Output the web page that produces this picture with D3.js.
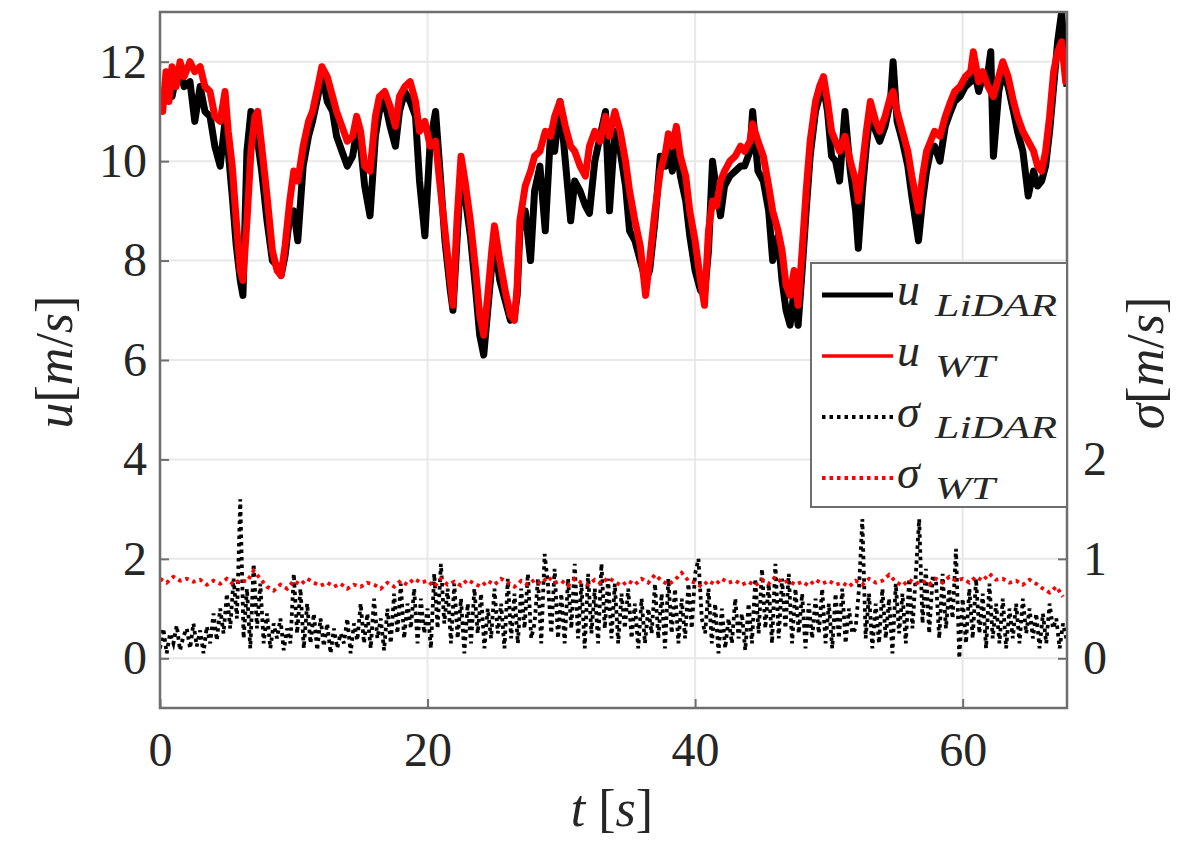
<!DOCTYPE html>
<html><head><meta charset="utf-8">
<script src="https://cdn.jsdelivr.net/npm/d3@7"></script>
<style>
html,body{margin:0;padding:0;background:#fff;}
svg{display:block;}
svg text{font-family:"Liberation Serif","DejaVu Serif","Times New Roman",serif !important;}
</style></head>
<body>
<svg id="chart" width="1191" height="841"></svg>
<script>
// ---------- DATA ----------
const xTicks = [0, 20, 40, 60];
const uTicks = [0, 2, 4, 6, 8, 10, 12];
const sigmaTicks = [0, 1, 2];

// [t (s), u (m/s)]
const uWT = [[0.0,11.4],[0.2,11.0],[0.45,11.8],[0.67,11.2],[0.9,11.9],[1.2,11.5],[1.5,12.0],[1.8,11.7],[2.24,12.0],[2.6,11.8],[3.0,11.9],[3.36,11.5],[3.74,11.4],[4.1,10.9],[4.5,10.8],[4.86,11.4],[5.1,10.6],[5.4,9.9],[5.7,8.8],[6.0,7.8],[6.2,7.6],[6.5,8.8],[6.8,10.2],[7.1,10.9],[7.3,11.0],[7.6,10.3],[8.0,9.3],[8.4,8.2],[8.75,7.8],[9.05,7.7],[9.35,8.3],[9.7,9.2],[10.0,9.8],[10.3,9.6],[10.7,10.3],[11.1,10.8],[11.4,11.0],[11.8,11.5],[12.1,11.9],[12.5,11.7],[12.9,11.3],[13.2,11.0],[13.6,10.7],[14.0,10.4],[14.4,10.5],[14.7,10.9],[15.0,10.6],[15.3,9.9],[15.7,9.8],[16.1,10.9],[16.4,11.3],[16.8,11.4],[17.2,11.1],[17.6,10.7],[17.9,11.3],[18.3,11.5],[18.7,11.6],[19.1,11.2],[19.4,10.6],[19.8,10.8],[20.2,10.3],[20.6,10.4],[20.9,9.6],[21.3,8.6],[21.7,7.6],[21.9,7.1],[22.2,8.8],[22.5,10.1],[22.8,9.6],[23.2,8.8],[23.6,7.8],[23.9,6.9],[24.2,6.5],[24.5,7.3],[24.8,8.2],[25.0,8.7],[25.4,8.0],[25.8,7.4],[26.2,6.9],[26.5,6.8],[26.7,7.5],[26.9,8.8],[27.3,9.5],[27.7,9.8],[28.0,10.1],[28.4,10.2],[28.8,10.6],[29.2,10.5],[29.5,10.9],[29.9,11.2],[30.3,10.7],[30.7,10.3],[31.0,10.2],[31.4,9.9],[31.8,9.7],[32.1,10.3],[32.5,10.6],[32.9,10.4],[33.3,10.9],[33.6,10.5],[34.0,11.0],[34.4,10.6],[34.8,10.0],[35.1,9.4],[35.5,8.8],[35.9,8.3],[36.3,7.3],[36.6,8.0],[37.0,9.0],[37.4,9.8],[37.8,10.2],[38.0,10.55],[38.3,10.3],[38.6,10.7],[38.9,10.1],[39.3,9.7],[39.6,9.0],[40.0,8.4],[40.4,7.6],[40.7,7.1],[41.0,8.6],[41.3,9.2],[41.6,9.1],[41.9,9.6],[42.2,9.8],[42.6,10.0],[43.0,10.1],[43.4,10.3],[43.7,10.2],[44.1,10.4],[44.3,10.75],[44.7,10.4],[45.1,10.1],[45.5,9.5],[45.8,9.0],[46.2,8.6],[46.5,8.2],[46.8,7.5],[47.1,7.3],[47.4,7.8],[47.7,7.1],[48.0,8.2],[48.3,9.4],[48.6,10.4],[49.0,11.2],[49.3,11.5],[49.6,11.7],[49.9,11.2],[50.2,10.6],[50.5,10.4],[50.8,10.2],[51.2,10.5],[51.6,10.0],[52.0,9.6],[52.2,9.2],[52.5,9.9],[52.8,10.6],[53.1,11.2],[53.5,10.8],[53.8,10.6],[54.2,10.9],[54.6,11.3],[54.8,11.4],[55.1,11.0],[55.5,10.6],[55.9,10.2],[56.2,9.7],[56.7,9.0],[57.0,9.7],[57.3,10.2],[57.6,10.4],[57.9,10.6],[58.3,10.5],[58.7,10.9],[59.1,11.2],[59.4,11.4],[59.8,11.5],[60.2,11.7],[60.6,11.8],[60.8,12.2],[61.2,11.6],[61.5,11.8],[61.9,11.5],[62.1,11.4],[62.3,11.3],[62.7,11.7],[63.0,12.0],[63.4,11.7],[63.8,11.2],[64.1,10.9],[64.5,10.6],[64.9,10.4],[65.3,10.2],[65.6,9.9],[65.9,9.8],[66.2,10.2],[66.5,10.9],[66.8,11.8],[67.1,12.2],[67.4,12.4],[67.7,11.6],[67.8,11.9]];

const uLiDAR = [[0.0,11.3],[0.2,11.2],[0.45,11.4],[0.67,11.6],[0.9,11.3],[1.2,11.7],[1.5,11.8],[1.8,11.5],[2.24,11.6],[2.6,10.8],[3.0,11.5],[3.36,11.0],[3.74,10.9],[4.1,10.3],[4.5,9.9],[4.86,10.8],[5.1,10.2],[5.4,9.3],[5.7,8.3],[6.0,7.6],[6.2,7.3],[6.5,10.2],[6.8,11.0],[7.1,10.6],[7.3,10.4],[7.6,9.8],[8.0,8.8],[8.4,8.0],[8.75,7.9],[9.05,7.7],[9.35,8.1],[9.7,8.9],[10.0,9.0],[10.3,8.4],[10.7,9.9],[11.1,10.5],[11.4,10.8],[11.8,11.3],[12.1,11.8],[12.5,11.2],[12.9,11.0],[13.2,10.5],[13.6,10.2],[14.0,9.9],[14.4,10.1],[14.7,10.6],[15.0,10.3],[15.3,9.5],[15.7,8.9],[16.1,10.5],[16.4,11.0],[16.8,11.2],[17.2,10.7],[17.6,10.3],[17.9,11.0],[18.3,11.4],[18.7,11.2],[19.1,10.9],[19.4,9.6],[19.8,8.5],[20.2,10.4],[20.6,11.0],[20.9,9.9],[21.3,8.4],[21.7,7.4],[21.9,7.0],[22.2,8.4],[22.5,9.8],[22.8,9.3],[23.2,8.5],[23.6,7.4],[23.9,6.5],[24.2,6.1],[24.5,7.0],[24.8,7.9],[25.0,8.4],[25.4,7.6],[25.8,7.2],[26.2,6.8],[26.5,6.9],[26.7,7.3],[26.9,8.6],[27.3,9.0],[27.7,8.0],[28.0,9.4],[28.4,9.9],[28.8,8.6],[29.2,10.6],[29.5,10.2],[29.9,11.2],[30.3,10.0],[30.7,8.8],[31.0,9.6],[31.4,9.4],[31.8,9.1],[32.1,8.95],[32.5,10.0],[32.9,10.5],[33.3,11.0],[33.6,9.0],[34.0,10.6],[34.4,10.2],[34.8,9.5],[35.1,8.6],[35.5,8.4],[35.9,8.0],[36.3,7.6],[36.6,7.8],[37.0,8.8],[37.4,10.1],[37.8,9.9],[38.0,10.2],[38.3,9.8],[38.6,10.4],[38.9,9.7],[39.3,9.2],[39.6,8.5],[40.0,7.8],[40.4,7.4],[40.7,7.3],[41.0,8.2],[41.3,10.0],[41.6,9.4],[41.9,8.9],[42.2,9.5],[42.6,9.7],[43.0,9.8],[43.4,9.9],[43.7,9.9],[44.1,10.2],[44.3,11.0],[44.7,9.8],[45.1,9.6],[45.5,9.0],[45.8,8.0],[46.2,8.5],[46.5,7.6],[46.8,7.0],[47.1,6.7],[47.4,7.4],[47.7,6.7],[48.0,7.8],[48.3,9.0],[48.6,10.1],[49.0,11.0],[49.3,11.3],[49.6,11.5],[49.9,11.0],[50.2,10.1],[50.5,10.0],[50.8,9.6],[51.2,11.0],[51.6,9.8],[52.0,9.0],[52.2,8.25],[52.5,9.4],[52.8,10.3],[53.1,11.0],[53.5,10.6],[53.8,10.4],[54.2,10.7],[54.6,11.2],[54.8,12.0],[55.1,10.8],[55.5,10.4],[55.9,9.9],[56.2,9.3],[56.7,8.4],[57.0,9.2],[57.3,9.8],[57.6,10.2],[57.9,10.3],[58.3,10.0],[58.7,10.7],[59.1,11.0],[59.4,11.2],[59.8,11.3],[60.2,11.5],[60.6,11.6],[60.8,11.9],[61.2,11.4],[61.5,11.7],[61.9,11.8],[62.1,12.2],[62.3,10.1],[62.7,11.4],[63.0,11.8],[63.4,11.5],[63.8,11.0],[64.1,10.6],[64.5,10.2],[64.9,9.3],[65.3,9.8],[65.6,9.5],[65.9,9.6],[66.2,9.9],[66.5,10.6],[66.8,11.5],[67.1,12.4],[67.4,13.0],[67.7,11.8],[67.8,11.5]];

// sigma_LiDAR sampled every 0.25 s from t = 0 (m/s, right axis)
const sigmaLiDARStep = 0.25;
const sigmaLiDAR = [
  0.10,0.30,0.05,0.25, 0.15,0.33,0.08,0.22, 0.30,0.10,0.35,0.12, 0.28,0.05,0.32,0.15,
  0.45,0.18,0.50,0.25, 0.65,0.30,0.80,0.40, 1.60,0.20,0.70,0.10, 0.95,0.30,0.75,0.15,
  0.45,0.10,0.35,0.20, 0.40,0.08,0.30,0.15, 0.85,0.25,0.70,0.10, 0.55,0.15,0.45,0.08,
  0.40,0.12,0.35,0.05, 0.30,0.10,0.25,0.15, 0.40,0.05,0.35,0.18, 0.55,0.15,0.45,0.10,
  0.60,0.20,0.40,0.08, 0.50,0.15,0.65,0.25, 0.75,0.20,0.55,0.30, 0.70,0.15,0.60,0.25,
  0.50,0.10,0.85,0.30, 0.95,0.35,0.70,0.15, 0.75,0.20,0.60,0.05, 0.55,0.15,0.70,0.25,
  0.65,0.10,0.50,0.20, 0.70,0.25,0.55,0.10, 0.80,0.20,0.65,0.15, 0.70,0.30,0.85,0.20,
  0.35,0.80,0.15,1.05, 0.75,0.25,0.90,0.20, 0.65,0.15,0.80,0.30, 0.95,0.20,0.75,0.10,
  0.85,0.25,0.70,0.15, 0.95,0.30,0.80,0.20, 0.75,0.15,0.65,0.30, 0.70,0.20,0.55,0.10,
  0.60,0.15,0.50,0.25, 0.75,0.20,0.65,0.10, 0.80,0.25,0.70,0.15, 0.60,0.20,0.75,0.30,
  0.85,1.00,0.40,0.25, 0.70,0.15,0.55,0.05, 0.50,0.10,0.40,0.15, 0.60,0.20,0.45,0.08,
  0.55,0.15,0.80,0.25, 0.90,0.30,0.75,0.15, 0.95,0.20,0.80,0.30, 0.85,0.15,0.70,0.25,
  0.65,0.10,0.55,0.20, 0.60,0.25,0.70,0.15, 0.55,0.10,0.65,0.20, 0.70,0.15,0.50,0.25,
  0.30,0.70,1.40,0.20, 0.65,0.10,0.55,0.15, 0.70,0.20,0.60,0.05, 0.75,0.25,0.65,0.15,
  0.80,0.30,0.85,1.40, 0.35,0.90,0.25,0.80, 0.80,0.20,0.85,0.30, 0.70,0.40,1.10,0.00,
  0.60,0.15,0.70,0.20, 0.80,0.25,0.65,0.10, 0.75,0.20,0.55,0.15, 0.60,0.10,0.50,0.20,
  0.55,0.15,0.60,0.25, 0.50,0.20,0.45,0.10, 0.45,0.15,0.55,0.30, 0.40,0.10,0.35,0.20];

// sigma_WT sampled every 0.5 s from t = 0
const sigmaWTStep = 0.5;
const sigmaWT = [0.80,0.76,0.82,0.78,0.80,0.77,0.79,0.74,
  0.78,0.75,0.80,0.74,0.79,0.77,0.88,0.80,
  0.72,0.68,0.74,0.70,0.78,0.74,0.80,0.76,
  0.73,0.76,0.72,0.75,0.70,0.74,0.72,0.76,
  0.74,0.70,0.76,0.72,0.78,0.74,0.80,0.76,
  0.78,0.72,0.80,0.74,0.77,0.73,0.79,0.75,
  0.72,0.78,0.74,0.80,0.76,0.72,0.78,0.74,
  0.79,0.75,0.82,0.76,0.78,0.73,0.80,0.76,
  0.74,0.79,0.75,0.81,0.77,0.73,0.78,0.74,
  0.80,0.76,0.84,0.78,0.74,0.79,0.86,0.78,
  0.76,0.72,0.78,0.74,0.80,0.76,0.78,0.74,
  0.77,0.73,0.79,0.75,0.82,0.76,0.78,0.74,
  0.77,0.73,0.79,0.75,0.78,0.74,0.76,0.72,
  0.78,0.74,0.80,0.76,0.78,0.84,0.77,0.73,
  0.79,0.75,0.78,0.74,0.80,0.76,0.82,0.78,
  0.80,0.76,0.82,0.78,0.85,0.79,0.80,0.76,
  0.78,0.74,0.79,0.75,0.70,0.66,0.72,0.62];

const legendItems = [
  {sym:"u", sub:"LiDAR", color:"#000000", dash:null, subLen:122},
  {sym:"u", sub:"WT", color:"#ff0000", dash:null, subLen:60},
  {sym:"σ", sub:"LiDAR", color:"#000000", dash:"3.5,4", subLen:122},
  {sym:"σ", sub:"WT", color:"#ff0000", dash:"3.5,4", subLen:60}
];

// ---------- LAYOUT ----------
const L = 160, R = 1067, T = 12, B = 708;
const textColor = "#262626";

const svg = d3.select("#chart");
const x = d3.scaleLinear().domain([0, 67.8]).range([L, R]);
const yL = d3.scaleLinear().domain([-1, 13]).range([B, T]);
const yR = d3.scaleLinear().domain([-0.5, 6.5]).range([B, T]);

svg.append("defs").append("clipPath").attr("id","clip")
  .append("rect").attr("x",L).attr("y",T).attr("width",R-L).attr("height",B-T);

// grid
const grid = svg.append("g");
grid.selectAll("line.gx").data(xTicks).join("line")
  .attr("x1", d=>x(d)).attr("x2", d=>x(d)).attr("y1", T).attr("y2", B)
  .attr("stroke","#e8e8e8").attr("stroke-width",2);
grid.selectAll("line.gy").data(uTicks).join("line")
  .attr("y1", d=>yL(d)).attr("y2", d=>yL(d)).attr("x1", L).attr("x2", R)
  .attr("stroke","#e8e8e8").attr("stroke-width",2);

// series
const plot = svg.append("g").attr("clip-path","url(#clip)");
const lineU = d3.line().x(d=>x(d[0])).y(d=>yL(d[1]));
const lineS = step => d3.line().x((d,i)=>x(i*step)).y(d=>yR(d));

plot.append("path").datum(sigmaLiDAR).attr("d", lineS(sigmaLiDARStep))
  .attr("fill","none").attr("stroke","#000").attr("stroke-width",3.8)
  .attr("stroke-dasharray","3.5,4");
plot.append("path").datum(sigmaWT).attr("d", lineS(sigmaWTStep))
  .attr("fill","none").attr("stroke","#ff0000").attr("stroke-width",3.8)
  .attr("stroke-dasharray","3.5,4");
plot.append("path").datum(uLiDAR).attr("d", lineU)
  .attr("fill","none").attr("stroke","#000").attr("stroke-width",7)
  .attr("stroke-linejoin","round");
plot.append("path").datum(uWT).attr("d", lineU)
  .attr("fill","none").attr("stroke","#ff0000").attr("stroke-width",7)
  .attr("stroke-linejoin","round");

// axes
const axisColor = "#6e6e6e";
function styleAxis(g){
  g.attr("font-family", null);
  g.select(".domain").remove();
  g.selectAll(".tick line").attr("stroke", axisColor).attr("stroke-width",2);
  g.selectAll(".tick text").attr("font-size", 48).attr("fill", textColor);
}
svg.append("g").attr("transform",`translate(${L},0)`)
  .call(d3.axisLeft(yL).tickValues(uTicks).tickSizeInner(-9).tickSizeOuter(0).tickPadding(13).tickFormat(d3.format("d")))
  .call(styleAxis);
svg.append("g").attr("transform",`translate(${R},0)`)
  .call(d3.axisRight(yR).tickValues(sigmaTicks).tickSizeInner(-9).tickSizeOuter(0).tickPadding(16).tickFormat(d3.format("d")))
  .call(styleAxis);
svg.append("g").attr("transform",`translate(0,${B})`)
  .call(d3.axisBottom(x).tickValues(xTicks).tickSizeInner(-9).tickSizeOuter(0).tickPadding(24).tickFormat(d3.format("d")))
  .call(styleAxis);

// frame
svg.append("rect").attr("x",L).attr("y",T).attr("width",R-L).attr("height",B-T)
  .attr("fill","none").attr("stroke",axisColor).attr("stroke-width",2.5);

// axis labels
function mathLabel(g, parts, size){
  const t = g.append("text").attr("font-size", size)
    .attr("fill", textColor).attr("text-anchor","middle");
  parts.forEach(p=>{
    t.append("tspan").text(p[0]).attr("font-style", p[1] ? "italic" : "normal");
  });
  return t;
}
mathLabel(svg.append("g").attr("transform","translate(72,362) rotate(-90)"),
  [["u",1],["[",0],["m",1],["/",0],["s",1],["]",0]], 52);
mathLabel(svg.append("g").attr("transform","translate(1163,363) rotate(-90)"),
  [["σ",1],["[",0],["m",1],["/",0],["s",1],["]",0]], 52);
mathLabel(svg.append("g").attr("transform","translate(612,826)"),
  [["t",1],["\u00a0[",0],["s",1],["]",0]], 52);

// legend
const lg = svg.append("g");
lg.append("rect").attr("x",811).attr("y",263).attr("width",R-811).attr("height",244)
  .attr("fill","#fff").attr("stroke",axisColor).attr("stroke-width",2);
const rowY = d3.scalePoint().domain(legendItems.map((d,i)=>i)).range([295,478]);
legendItems.forEach((d,i)=>{
  const y0 = rowY(i);
  lg.append("line").attr("x1",822).attr("x2",893).attr("y1",y0).attr("y2",y0)
    .attr("stroke", d.color).attr("stroke-width", d.dash ? 3.8 : (i===0?5:3.5))
    .attr("stroke-dasharray", d.dash);
  lg.append("text").attr("x",897).attr("y",y0+10)
    .attr("font-style","italic").attr("font-size",46).attr("fill",textColor).text(d.sym);
  lg.append("text").attr("x",935).attr("y",y0+21)
    .attr("font-style","italic").attr("font-size",31).attr("fill",textColor)
    .attr("textLength", d.subLen).attr("lengthAdjust","spacingAndGlyphs").text(d.sub);
});
</script>
</body></html>
